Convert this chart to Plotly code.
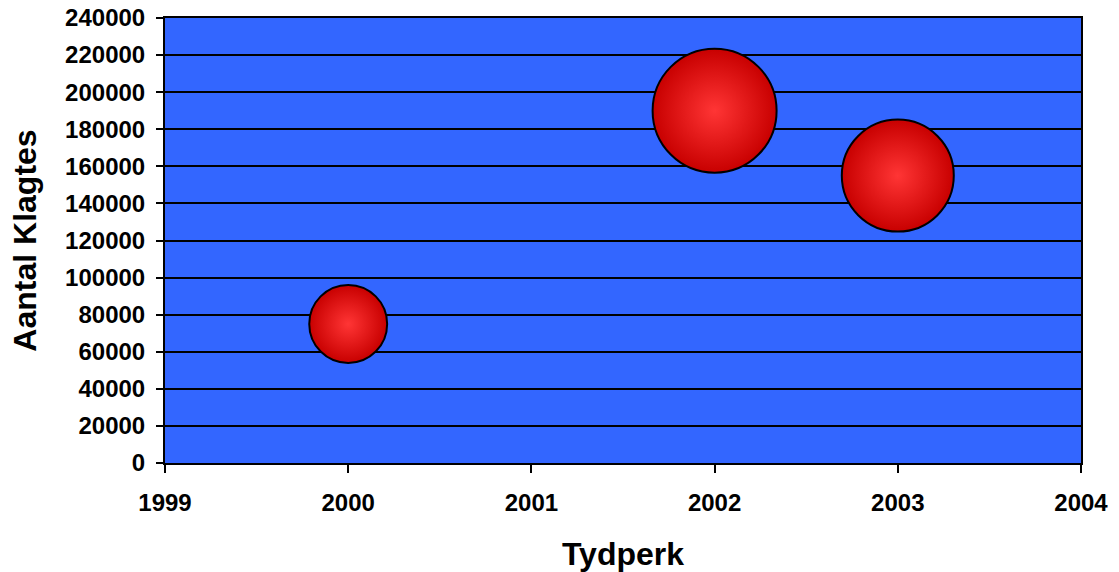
import plotly.graph_objects as go

years = [2000, 2002, 2003]
complaints = [75000, 190000, 155000]
bubble_sizes = [75000, 190000, 155000]
x_title = "Tydperk"
y_title = "Aantal Klagtes"

max_diam = 124
sizeref = 2.0 * max(bubble_sizes) / (max_diam ** 2)

fig = go.Figure()
fig.add_trace(go.Scatter(
    x=years, y=complaints, mode="markers",
    marker=dict(
        size=bubble_sizes, sizemode="area", sizeref=sizeref,
        color="#C80000",
        gradient=dict(type="radial", color="#FF3535"),
        line=dict(color="black", width=2),
        opacity=1,
    ),
    hoverinfo="x+y", showlegend=False,
))

font_fam = "Liberation Sans, Arial, sans-serif"
fig.update_layout(
    width=1119, height=572,
    margin=dict(l=165, r=38, t=18, b=109, autoexpand=False),
    paper_bgcolor="white", plot_bgcolor="#3366FF",
    font=dict(family=font_fam, color="black"),
)
fig.update_xaxes(
    range=[1999, 2004], dtick=1, tick0=1999, showgrid=False, zeroline=False,
    showline=True, linecolor="black", linewidth=2, mirror=True,
    ticks="outside", ticklen=8, tickwidth=2, tickcolor="black",
    tickformat="d",
    tickfont=dict(size=24, weight="bold", family=font_fam),
    ticklabelstandoff=9,
    title=dict(text=x_title, font=dict(size=32, weight="bold", family=font_fam), standoff=32),
)
fig.update_yaxes(
    range=[0, 240000], dtick=20000, showgrid=True, gridcolor="black", gridwidth=2,
    zeroline=False, showline=True, linecolor="black", linewidth=2, mirror=True,
    ticks="outside", ticklen=7, tickwidth=2, tickcolor="black",
    tickformat="d",
    tickfont=dict(size=24, weight="bold", family=font_fam),
    ticklabelstandoff=6,
    title=dict(text=y_title, font=dict(size=32, weight="bold", family=font_fam), standoff=19),
)

fig.write_html("out.html", config={"displayModeBar": False},
               post_script="document.body.style.margin='0';")
